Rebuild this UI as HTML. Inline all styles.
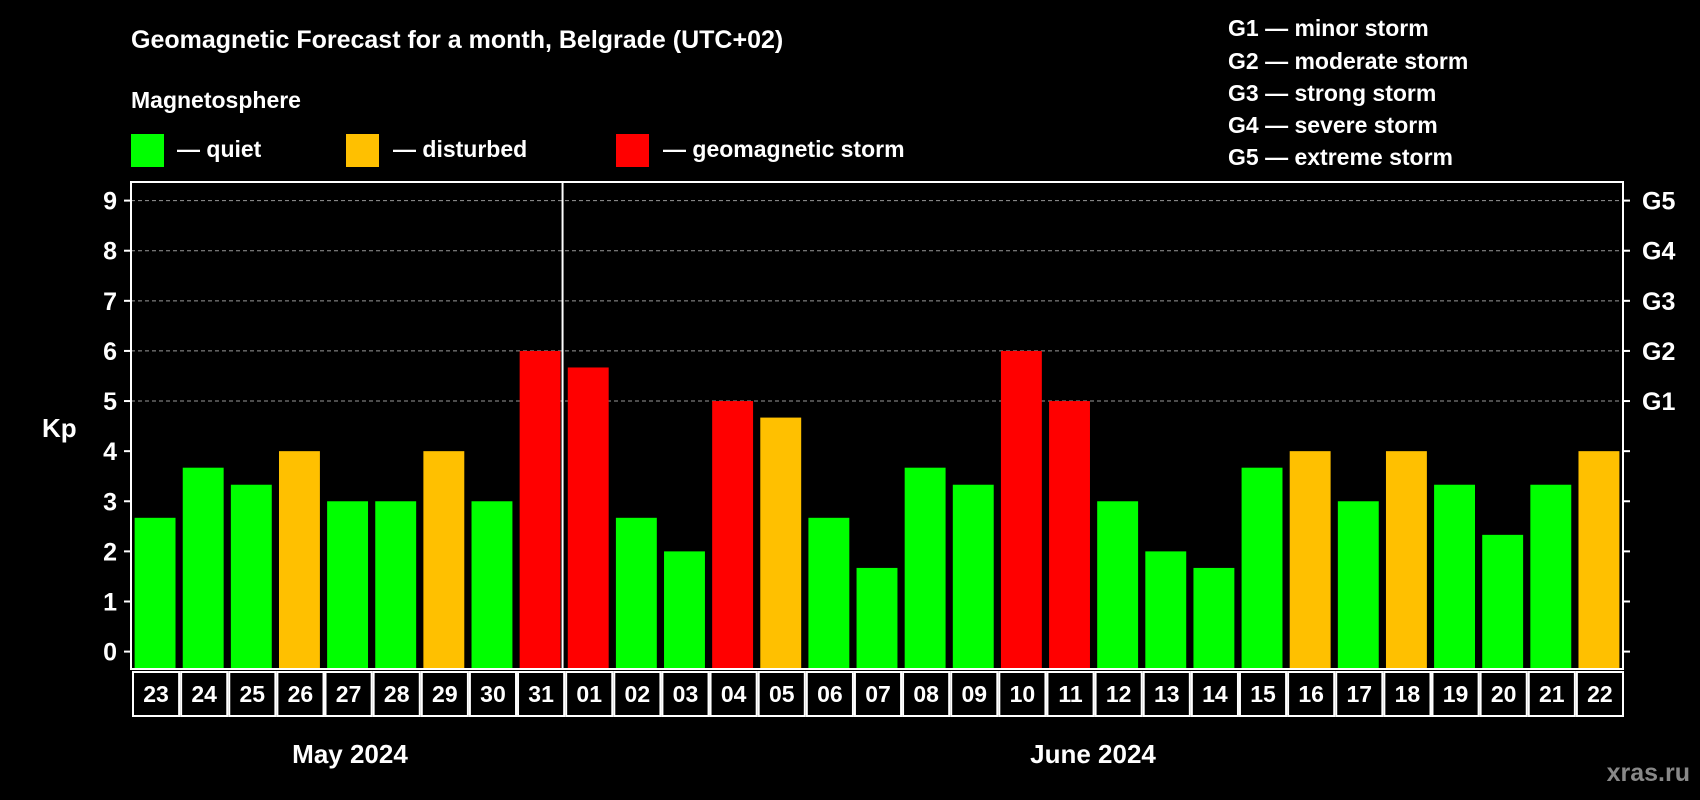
<!DOCTYPE html>
<html><head><meta charset="utf-8"><style>
html,body{margin:0;padding:0;background:#000;width:1700px;height:800px;overflow:hidden}
svg{display:block;font-family:"Liberation Sans",Arial,sans-serif;font-weight:bold}
</style></head><body>
<svg id="chart" width="1700" height="800" viewBox="0 0 1700 800">
<text x="131" y="48" fill="#fff" font-size="25">Geomagnetic Forecast for a month, Belgrade (UTC+02)</text>
<text x="131" y="108" fill="#fff" font-size="23">Magnetosphere</text>
<g><rect x="131" y="134" width="33" height="33" fill="#00ff00"/><text x="177" y="157" fill="#fff" font-size="23">— quiet</text></g>
<g><rect x="346" y="134" width="33" height="33" fill="#ffc000"/><text x="393" y="157" fill="#fff" font-size="23">— disturbed</text></g>
<g><rect x="616" y="134" width="33" height="33" fill="#ff0000"/><text x="663" y="157" fill="#fff" font-size="23">— geomagnetic storm</text></g>
<g fill="#fff" font-size="23">
<text x="1228" y="36">G1 — minor storm</text>
<text x="1228" y="69">G2 — moderate storm</text>
<text x="1228" y="101">G3 — strong storm</text>
<text x="1228" y="133">G4 — severe storm</text>
<text x="1228" y="165">G5 — extreme storm</text>
</g>
<text x="42" y="437" fill="#fff" font-size="26">Kp</text>
<g id="plot"></g>
<text x="350" y="763" fill="#fff" font-size="26" text-anchor="middle">May 2024</text>
<text x="1093" y="763" fill="#fff" font-size="26" text-anchor="middle">June 2024</text>
<text x="1690" y="781" fill="#888" font-size="25" text-anchor="end">xras.ru</text>
</svg>
<script>
const days = ["23","24","25","26","27","28","29","30","31","01","02","03","04","05","06","07","08","09","10","11","12","13","14","15","16","17","18","19","20","21","22"];
const kpValues = [2.67,3.67,3.33,4,3,3,4,3,6,5.67,2.67,2,5,4.67,2.67,1.67,3.67,3.33,6,5,3,2,1.67,3.67,4,3,4,3.33,2.33,3.33,4];
const yTicks = [0,1,2,3,4,5,6,7,8,9];
const gLabels = ["G1","G2","G3","G4","G5"];
const gLevels = [5,6,7,8,9];

const NS="http://www.w3.org/2000/svg";
const plot=document.getElementById('plot');
const L=131, R=1623, T=182, B=669;
const y0=651.6, y9=200.6;
function y(v){return y0+(y9-y0)*v/9;}
const step=(R-L)/days.length;
function xc(i){return L+step*(i+0.5);}
const bw=step*0.85;
function mk(tag,attrs){const e=document.createElementNS(NS,tag);for(const k in attrs)e.setAttribute(k,attrs[k]);plot.appendChild(e);return e;}
function color(v){return v>=5?'#ff0000':(v>=4?'#ffc000':'#00ff00');}

gLevels.forEach(function(v){
  const g=mk('line',{x1:L,x2:R,y1:y(v),y2:y(v),stroke:'#999','stroke-dasharray':'4,3','stroke-width':1});
  
  
});
kpValues.forEach(function(v,i){
  const r=mk('rect',{x:xc(i)-bw/2,y:y(v),width:bw,height:B-y(v),fill:color(v)});
  
  
});
yTicks.forEach(function(v){
  mk('line',{x1:L-7,x2:L,y1:y(v),y2:y(v),stroke:'#fff','stroke-width':2});
  mk('line',{x1:R,x2:R+7,y1:y(v),y2:y(v),stroke:'#fff','stroke-width':2});
  const t=mk('text',{x:L-14,y:y(v)+9,fill:'#fff','font-size':25,'text-anchor':'end'});
  t.textContent=v;
  
  
});
gLabels.forEach(function(g,i){
  const t=mk('text',{x:R+19,y:y(gLevels[i])+9,fill:'#fff','font-size':25});
  t.textContent=g;
  
  
});
const frame=mk('rect',{x:L,y:T,width:R-L,height:B-T,fill:'none',stroke:'#fff','stroke-width':2});


const div=mk('line',{x1:xc(8)+bw/2+2,x2:xc(8)+bw/2+2,y1:T,y2:B,stroke:'#fff','stroke-width':2});


days.forEach(function(d,i){
  const c=mk('rect',{x:L+step*i+2,y:672,width:step-2,height:44,fill:'none',stroke:'#fff','stroke-width':2});
  
  
  const t=mk('text',{x:xc(i)+1,y:702,fill:'#fff','font-size':23,'text-anchor':'middle'});
  t.textContent=d;
  
  
});
</script>
</body></html>
